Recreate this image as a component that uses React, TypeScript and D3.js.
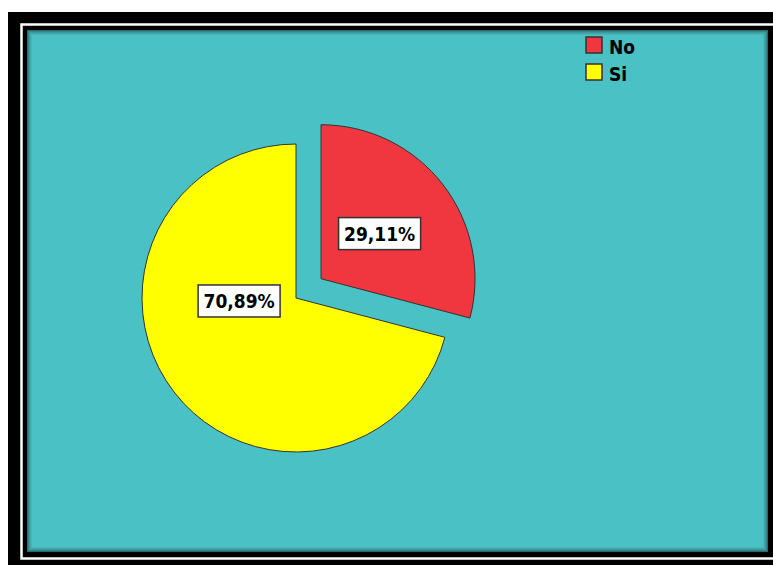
import React from "react";
import * as d3 from "d3";

const categories = ["No", "Si"];
const values = [29.11, 70.89];
const labels = ["29,11%", "70,89%"];
const colors = ["#F0363F", "#FFFF00"];

const W = 773;
const H = 566;
const cx = 296;
const cy = 298;
const R = 154;
const explode = [31.6, 0];

export default function App() {
  const pie = d3.pie<number>().sort(null).value((d) => d);
  const arcs = pie(values);
  const arcGen = d3.arc<d3.PieArcDatum<number>>().innerRadius(0).outerRadius(R);
  const font = "'DejaVu Sans Condensed', 'DejaVu Sans', Verdana, sans-serif";
  const insets = [0.5, 1.5, 2.5, 3.5, 4.5];
  const ops = [0.45, 0.3, 0.2, 0.12, 0.06];
  // label positions: [radius fraction, angle (deg from top)] per slice
  const labelPos = [
    [0.48, null],
    [0.37, 267],
  ] as const;
  return (
    <svg width={W} height={H} style={{ position: "absolute", left: 0, top: 0 }}>
      <rect x={0} y={0} width={W} height={H} fill="#fff" />
      <rect x={8} y={12} width={900} height={553} fill="#000" />
      <rect x={21.5} y={24.5} width={900} height={534} fill="none" stroke="#fff" strokeWidth={2.5} />
      <rect x={27} y={30} width={741} height={522} fill="#4AC1C4" />
      {insets.map((d, i) => (
        <rect key={i} x={27 + d} y={30 + d} width={741 - 2 * d} height={522 - 2 * d} fill="none" stroke="#000" strokeOpacity={ops[i]} strokeWidth={1} />
      ))}
      {arcs.map((a, i) => {
        const mid = (a.startAngle + a.endAngle) / 2;
        const dx = Math.sin(mid) * explode[i];
        const dy = -Math.cos(mid) * explode[i];
        return (
          <g key={categories[i]} transform={`translate(${cx + dx},${cy + dy})`}>
            <path d={arcGen(a) || ""} fill={colors[i]} stroke="#333" strokeWidth={1} />
          </g>
        );
      })}
      {arcs.map((a, i) => {
        const mid = (a.startAngle + a.endAngle) / 2;
        const dx = Math.sin(mid) * explode[i];
        const dy = -Math.cos(mid) * explode[i];
        const ang = labelPos[i][1] == null ? mid : ((labelPos[i][1] as number) * Math.PI) / 180;
        const r = labelPos[i][0] * R;
        const lx = cx + dx + Math.sin(ang) * r;
        const ly = cy + dy - Math.cos(ang) * r;
        const bw = 82;
        const bh = 32;
        return (
          <g key={"l" + i}>
            <rect x={lx - bw / 2} y={ly - bh / 2} width={bw} height={bh} fill="#fff" stroke="#333" strokeWidth={1.5} />
            <text x={lx} y={ly + 7} textAnchor="middle" fontFamily={font} fontWeight="bold" fontSize={19} fill="#000">
              {labels[i]}
            </text>
          </g>
        );
      })}
      {categories.map((c, i) => (
        <g key={"leg" + c} transform={`translate(586,${37 + i * 27})`}>
          <rect x={0} y={0} width={16} height={16} fill={colors[i]} stroke="#333" strokeWidth={1.5} />
          <text x={23} y={17} fontFamily={font} fontWeight="bold" fontSize={19} fill="#000">
            {c}
          </text>
        </g>
      ))}
    </svg>
  );
}
